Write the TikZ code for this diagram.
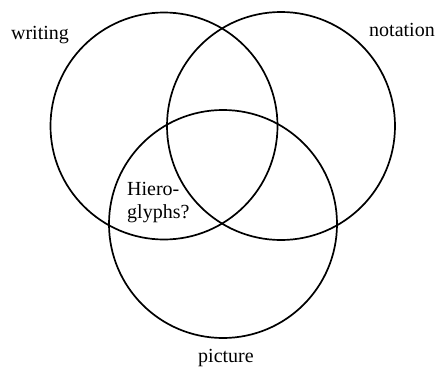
\documentclass[tikz,border=0pt]{standalone}
\usepackage{fontspec}
\setmainfont{Liberation Serif}
\begin{document}
\begin{tikzpicture}[x=1pt,y=1pt,
  ring/.style={draw=black,line width=1.7pt},
  lbl/.style={font=\fontsize{20}{23}\selectfont,inner sep=0pt}]
\useasboundingbox (0,0) rectangle (440,368);
\fill[white] (0,0) rectangle (440,368);
\node[ring,circle,minimum size=227pt,inner sep=0pt] (writingc) at (164,242) {};
\node[ring,circle,minimum size=228pt,inner sep=0pt] (notationc) at (281,242) {};
\node[ring,circle,minimum size=228pt,inner sep=0pt] (picturec) at (223,144) {};
\node[lbl,anchor=base] (writing) at (40,329) {writing};
\node[lbl,anchor=base] (notation) at (402,332) {notation};
\node[lbl,anchor=base] (picture) at (226,6) {picture};
\node[lbl,anchor=base west] (hiero) at (127,173) {Hiero-};
\node[lbl,anchor=base west] (glyphs) at (127,150) {glyphs?};
\end{tikzpicture}
\end{document}
